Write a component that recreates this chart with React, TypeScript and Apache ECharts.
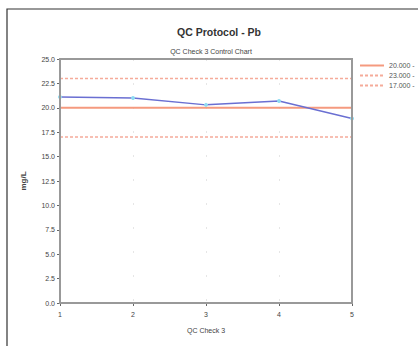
import React, { useEffect, useRef } from "react";
import * as echarts from "echarts";

const checks = [1, 2, 3, 4, 5];
const results = [21.1, 21.0, 20.3, 20.7, 18.9];
const meanValue = 20;
const upperLimit = 23;
const lowerLimit = 17;
const limitNames = ["20.000 -", "23.000 -", "17.000 -"];

export default function App() {
  const ref = useRef<HTMLDivElement>(null);
  useEffect(() => {
    if (!ref.current) return;
    const chart = echarts.init(ref.current, null, { renderer: "svg" });
    const font = "Liberation Sans, Arial, sans-serif";
    const flat = (v: number) => checks.map((c) => [c, v]);
    chart.setOption({
      animation: false,
      textStyle: { fontFamily: font },
      title: [
        {
          text: "QC Protocol - Pb",
          left: 214,
          textAlign: "center",
          top: 21,
          textStyle: { fontSize: 10.5, fontWeight: "bold", color: "#333", fontFamily: font },
        },
        {
          text: "QC Check 3 Control Chart",
          left: 206,
          textAlign: "center",
          top: 43,
          textStyle: { fontSize: 7, fontWeight: "normal", color: "#444", fontFamily: font },
        },
      ],
      graphic: [
        {
          type: "rect",
          shape: { x: 7, y: 9, width: 430, height: 345 },
          style: { fill: "none", stroke: "#333", lineWidth: 1.2 },
          silent: true,
        },
        {
          type: "rect",
          shape: { x: 60, y: 59, width: 292, height: 244 },
          style: { fill: "none", stroke: "#999", lineWidth: 2 },
          silent: true,
          z: 10,
        },
      ],
      legend: {
        orient: "vertical",
        left: 354,
        top: 57,
        itemWidth: 24,
        itemHeight: 6,
        itemGap: 3,
        data: limitNames,
        itemStyle: { opacity: 0 },
        textStyle: { fontSize: 7, color: "#555", fontFamily: font },
      },
      grid: { left: 60, right: 66, top: 59, bottom: 43, containLabel: false },
      xAxis: {
        type: "value",
        min: 1,
        max: 5,
        interval: 1,
        name: "QC Check 3",
        nameLocation: "middle",
        nameGap: 24,
        nameTextStyle: { fontSize: 7, color: "#444" },
        axisLine: { show: true, lineStyle: { color: "#999", width: 2 } },
        axisTick: { show: true, lineStyle: { color: "#666" }, length: 3 },
        axisLabel: { fontSize: 7, color: "#444", margin: 8, showMinLabel: true, showMaxLabel: true },
        splitLine: { show: true, lineStyle: { color: "#e6e6e6", type: [2, 22] } },
      },
      yAxis: {
        type: "value",
        min: 0,
        max: 25,
        interval: 2.5,
        name: "mg/L",
        nameLocation: "middle",
        nameGap: 33,
        nameTextStyle: { fontSize: 8, color: "#444", fontWeight: "bold" },
        axisLine: { show: true, lineStyle: { color: "#999", width: 2 } },
        axisTick: { show: true, lineStyle: { color: "#666" }, length: 3 },
        axisLabel: { fontSize: 7, color: "#444", margin: 5, formatter: (v: number) => v.toFixed(1) },
        splitLine: { show: false },
      },
      series: [
        {
          name: limitNames[0],
          type: "line",
          data: flat(meanValue),
          symbol: "none",
          lineStyle: { color: "#f59a7f", width: 2 },
          itemStyle: { color: "#f59a7f" },
        },
        {
          name: limitNames[1],
          type: "line",
          data: flat(upperLimit),
          symbol: "none",
          lineStyle: { color: "#f5ab9a", width: 1.5, type: [3, 2] },
          itemStyle: { color: "#f5ab9a" },
        },
        {
          name: limitNames[2],
          type: "line",
          data: flat(lowerLimit),
          symbol: "none",
          lineStyle: { color: "#f5ab9a", width: 1.5, type: [3, 2] },
          itemStyle: { color: "#f5ab9a" },
        },
        {
          name: "QC Check 3",
          type: "line",
          data: checks.map((c, i) => [c, results[i]]),
          symbol: "circle",
          symbolSize: 4,
          lineStyle: { color: "#6a6fd2", width: 1.5 },
          itemStyle: { color: "#8fdcf2" },
          z: 5,
        },
      ],
    });
    return () => chart.dispose();
  }, []);
  return (
    <div
      ref={ref}
      style={{ position: "absolute", left: 0, top: 0, width: 418, height: 346 }}
    />
  );
}
